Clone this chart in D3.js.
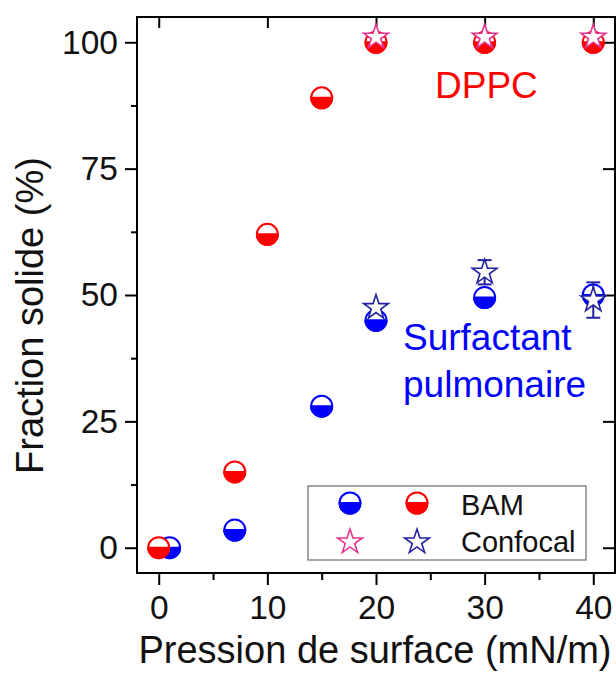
<!DOCTYPE html>
<html><head><meta charset="utf-8">
<script src="https://cdn.jsdelivr.net/npm/d3@7"></script>
<style>body{margin:0;background:#fff} svg{display:block}</style>
</head><body><svg id="c" width="616" height="688"></svg>
<script>
// ---- data ----
const pressureDPPC = [0, 7, 10, 15, 20, 30, 40];
const bamDPPC = [0, 15, 62, 89, 100, 100, 100];
const pressureSurf = [1, 7, 15, 20, 30, 40];
const bamSurf = [0, 3.5, 28, 45, 49.5, 50];
const pressureConfocal = [20, 30, 40];
const confocalDPPC = [101, 101, 101];
const confocalSurf = [47.5, 54.5, 49];
const confocalSurfErr = [0, 2.4, 3.5];
const xTicks = [0, 10, 20, 30, 40];
const xMinorTicks = [5, 15, 25, 35];
const yTicks = [0, 25, 50, 75, 100];
const yMinorTicks = [12.5, 37.5, 62.5, 87.5];
const xLabel = "Pression de surface (mN/m)";
const yLabel = "Fraction solide (%)";
const legendLabels = ["BAM", "Confocal"];
const annotDPPC = "DPPC";
const annotSurf = ["Surfactant", "pulmonaire"];

// ---- styles ----
const RED = "#ff0000", BLUE = "#0000ff", PINK = "#e6338c", NAVY = "#2222a0";
const FONT = "'Liberation Sans', Arial, sans-serif";
const TICK_FS = 33.5;

const svg = d3.select("#c");
const x = d3.scaleLinear().domain([-2, 42]).range([137, 615]);
const y = d3.scaleLinear().domain([-5, 105]).range([573, 17]);

function styleAxis(g, fs) {
  g.select(".domain").remove();
  g.selectAll("line").attr("stroke", "#000").attr("stroke-width", 2);
  g.selectAll("text").attr("font-size", fs).attr("font-family", FONT).attr("fill", "#111");
  g.attr("font-family", FONT).attr("font-size", fs);
}

// axes
svg.append("g").attr("transform", "translate(0,573)")
  .call(d3.axisBottom(x).tickValues(xTicks).tickSize(12).tickPadding(10).tickFormat(d3.format("d")))
  .call(g => styleAxis(g, TICK_FS));
svg.append("g").attr("transform", "translate(0,573)")
  .call(d3.axisBottom(x).tickValues(xMinorTicks).tickSize(7).tickFormat(""))
  .call(g => styleAxis(g, TICK_FS));
svg.append("g").attr("transform", "translate(137,0)")
  .call(d3.axisLeft(y).tickValues(yTicks).tickSize(12).tickPadding(7).tickFormat(d3.format("d")))
  .call(g => styleAxis(g, TICK_FS));
svg.append("g").attr("transform", "translate(137,0)")
  .call(d3.axisLeft(y).tickValues(yMinorTicks).tickSize(6).tickFormat(""))
  .call(g => styleAxis(g, TICK_FS));
svg.append("g").attr("transform", "translate(0,17)")
  .call(d3.axisTop(x).tickValues(xTicks).tickSize(-11).tickFormat(""))
  .call(g => styleAxis(g, TICK_FS));
svg.append("g").attr("transform", "translate(615,0)")
  .call(d3.axisRight(y).tickValues(yTicks).tickSize(-12).tickFormat(""))
  .call(g => styleAxis(g, TICK_FS));

// frame
svg.append("rect").attr("x", 137).attr("y", 17).attr("width", 478).attr("height", 556)
  .attr("fill", "none").attr("stroke", "#000").attr("stroke-width", 2);

// marker helpers
const R = 10.5;
function halfCircle(g, cx, cy, color) {
  const m = g.append("g").attr("transform", `translate(${cx},${cy})`);
  m.append("circle").attr("r", R).attr("fill", "#fff").attr("stroke", color).attr("stroke-width", 2);
  m.append("path").attr("d", `M${-R},0A${R},${R} 0 0 0 ${R},0Z`).attr("fill", color)
    .attr("stroke", color).attr("stroke-width", 2).attr("stroke-linejoin", "round");
}
const starPath = d3.symbol().type(d3.symbolStar).size(190)();
function star(g, cx, cy, color) {
  g.append("path").attr("d", starPath).attr("transform", `translate(${cx},${cy})`)
    .attr("fill", "#fff").attr("stroke", color).attr("stroke-width", 1.6).attr("stroke-linejoin", "miter");
}

const marks = svg.append("g");
// BAM surfactant (under), then DPPC
pressureSurf.forEach((p, i) => halfCircle(marks, x(p), y(bamSurf[i]), BLUE));
pressureDPPC.forEach((p, i) => halfCircle(marks, x(p), y(bamDPPC[i]), RED));

// error bars of confocal surfactant
pressureConfocal.forEach((p, i) => {
  const e = confocalSurfErr[i];
  if (!e) return;
  const cx = x(p), y1 = y(confocalSurf[i] + e), y2 = y(confocalSurf[i] - e);
  marks.append("line").attr("x1", cx).attr("x2", cx).attr("y1", y1).attr("y2", y2)
    .attr("stroke", NAVY).attr("stroke-width", 2);
  [y1, y2].forEach(yy => marks.append("line").attr("x1", cx - 7).attr("x2", cx + 7)
    .attr("y1", yy).attr("y2", yy).attr("stroke", NAVY).attr("stroke-width", 2));
});

// confocal stars
pressureConfocal.forEach((p, i) => star(marks, x(p), y(confocalDPPC[i]), PINK));
pressureConfocal.forEach((p, i) => star(marks, x(p), y(confocalSurf[i]), NAVY));

// annotations
svg.append("text").attr("x", 435).attr("y", 98).attr("font-size", 37).attr("font-family", FONT)
  .attr("fill", RED).text(annotDPPC);
annotSurf.forEach((t, i) => svg.append("text").attr("x", 403).attr("y", 350 + i * 47)
  .attr("font-size", 37).attr("font-family", FONT).attr("fill", BLUE).text(t));

// axis titles
svg.append("text").attr("x", 375).attr("y", 663).attr("text-anchor", "middle")
  .attr("font-size", 38).attr("font-family", FONT).attr("fill", "#111").text(xLabel);
svg.append("text").attr("transform", "translate(43,315.5) rotate(-90)").attr("text-anchor", "middle")
  .attr("font-size", 38).attr("font-family", FONT).attr("fill", "#111").text(yLabel);

// legend
const lg = svg.append("g");
lg.append("rect").attr("x", 308).attr("y", 486).attr("width", 278).attr("height", 74)
  .attr("fill", "#fff").attr("stroke", "#888").attr("stroke-width", 1.5);
halfCircle(lg, 350, 503, BLUE);
halfCircle(lg, 417, 503, RED);
star(lg, 350, 542, PINK);
star(lg, 417, 542, NAVY);
lg.append("text").attr("x", 461).attr("y", 515).attr("font-size", 29).attr("font-family", FONT)
  .attr("fill", "#111").text(legendLabels[0]);
lg.append("text").attr("x", 461).attr("y", 552).attr("font-size", 29).attr("font-family", FONT)
  .attr("fill", "#111").text(legendLabels[1]);
</script>
</body></html>
